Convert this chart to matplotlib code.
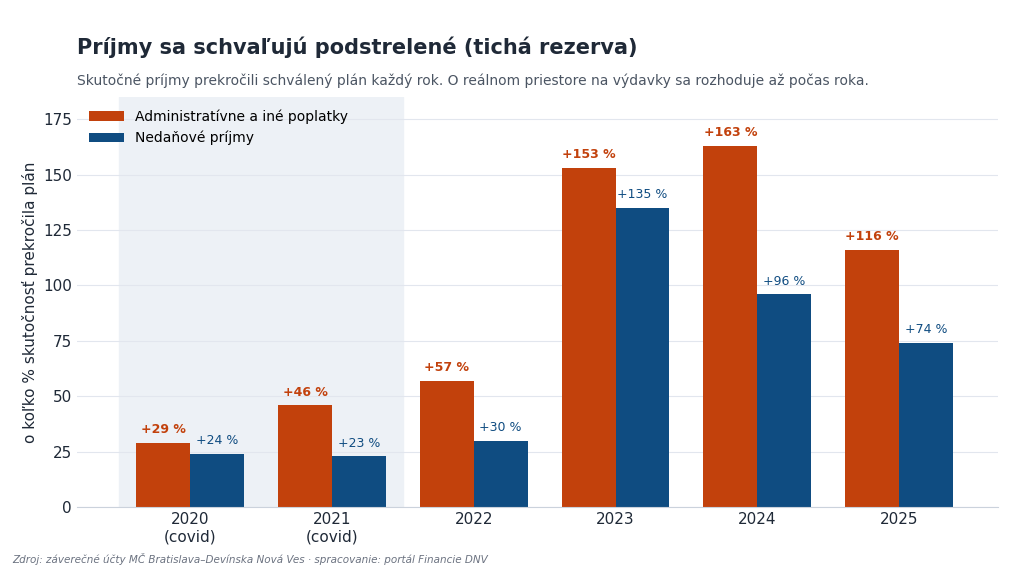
import numpy as np
import matplotlib.pyplot as plt

years = ['2020\n(covid)', '2021\n(covid)', '2022', '2023', '2024', '2025']
admin = [29, 46, 57, 153, 163, 116]
nedan = [24, 23, 30, 135, 96, 74]

plt.rcParams['font.family'] = 'DejaVu Sans'
fig = plt.figure(figsize=(10.24, 5.7), dpi=100)
ax = fig.add_axes([0.075, 0.11, 0.9, 0.72])

x = np.arange(len(years))
w = 0.38
orange = '#C2410C'
blue = '#0F4C81'
ax.axvspan(-0.5, 1.5, color='#EDF1F6', zorder=0)
ax.bar(x - w/2, admin, w, color=orange, label='Administratívne a iné poplatky', zorder=2)
ax.bar(x + w/2, nedan, w, color=blue, label='Nedaňové príjmy', zorder=2)
for i in range(len(x)):
    ax.text(x[i] - w/2, admin[i] + 3, f'+{admin[i]} %', ha='center', va='bottom',
            color=orange, fontsize=9, fontweight='bold')
    ax.text(x[i] + w/2, nedan[i] + 3, f'+{nedan[i]} %', ha='center', va='bottom',
            color=blue, fontsize=9)

ax.set_xlim(-0.8, 5.7)
ax.set_ylim(0, 185)
ax.set_xticks(x)
ax.set_xticklabels(years, fontsize=11, color='#1F2937')
ax.set_yticks(range(0, 176, 25))
ax.tick_params(axis='y', labelsize=11, colors='#1F2937', length=0)
ax.tick_params(axis='x', length=0)
ax.grid(axis='y', color='#E2E6EE', zorder=1)
for s in ['top', 'right', 'left']:
    ax.spines[s].set_visible(False)
ax.spines['bottom'].set_color('#CBD2DC')
ax.set_ylabel('o koľko % skutočnosť prekročila plán', fontsize=11, color='#1F2937')
ax.legend(loc='upper left', frameon=False, fontsize=10, bbox_to_anchor=(0.0, 1.0),
          handlelength=2.5)

fig.text(0.075, 0.905, 'Príjmy sa schvaľujú podstrelené (tichá rezerva)', fontsize=15,
         fontweight='bold', color='#1F2937')
fig.text(0.075, 0.85, 'Skutočné príjmy prekročili schválený plán každý rok. O reálnom priestore na výdavky sa rozhoduje až počas roka.',
         fontsize=10, color='#4B5563')
fig.text(0.012, 0.012, 'Zdroj: záverečné účty MČ Bratislava–Devínska Nová Ves · spracovanie: portál Financie DNV',
         fontsize=7.5, style='italic', color='#6B7280')
fig.savefig('out.png')
